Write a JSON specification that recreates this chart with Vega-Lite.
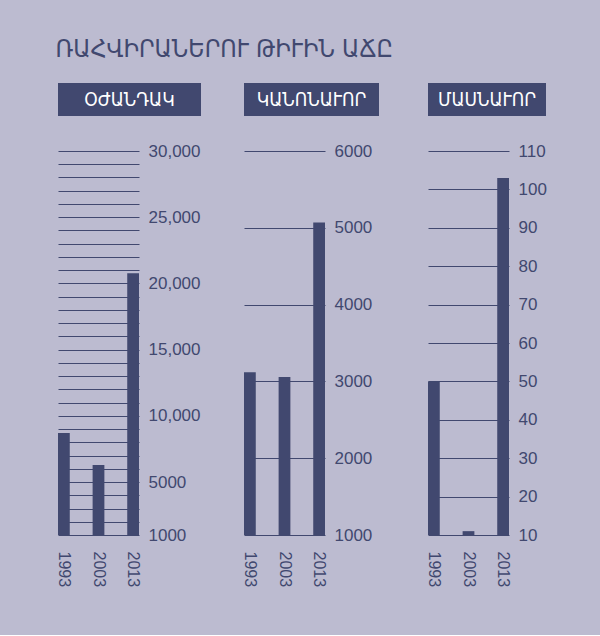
{
  "$schema": "https://vega.github.io/schema/vega-lite/v6.json",
  "background": "#bcbbd0",
  "padding": {"left": 55, "top": 37, "right": 57, "bottom": 48},
  "title": {
    "text": "ՌԱՀՎԻՐԱՆԵՐՈՒ ԹԻՒԻՆ ԱՃԸ",
    "anchor": "start",
    "font": "DejaVu Sans Condensed, DejaVu Sans",
    "fontSize": 25,
    "fontWeight": "normal",
    "color": "#41486f",
    "offset": 21
  },
  "datasets": {
    "auxiliary": [
      {"year": "1993", "count": 8700},
      {"year": "2003", "count": 6280},
      {"year": "2013", "count": 20770}
    ],
    "regular": [
      {"year": "1993", "count": 3120},
      {"year": "2003", "count": 3056},
      {"year": "2013", "count": 5068}
    ],
    "special": [
      {"year": "1993", "count": 50},
      {"year": "2003", "count": 11},
      {"year": "2013", "count": 103}
    ]
  },
  "config": {
    "view": {"stroke": null},
    "axisX": {
      "title": null,
      "labelAngle": 90,
      "ticks": false,
      "tickSize": 0,
      "domain": false,
      "grid": false,
      "labelPadding": 16,
      "labelFont": "Liberation Sans",
      "labelFontSize": 16,
      "labelColor": "#41486f"
    },
    "axisY": {
      "title": null,
      "orient": "right",
      "ticks": false,
      "tickSize": 0,
      "domain": false,
      "grid": true,
      "gridColor": "#41486f",
      "gridOpacity": 1,
      "gridWidth": 1,
      "labelPadding": 9,
      "labelOverlap": false,
      "labelFont": "Liberation Sans",
      "labelFontSize": 17,
      "labelColor": "#41486f"
    },
    "bar": {"color": "#41486f"},
    "text": {"color": "white", "font": "DejaVu Sans Condensed, DejaVu Sans", "fontSize": 19}
  },
  "spacing": 40,
  "hconcat": [
    {
      "spacing": 26,
      "vconcat": [
        {
          "width": 143,
          "height": 33,
          "view": {"fill": "#41486f", "stroke": null},
          "data": {"values": [{"name": "ՕԺԱՆԴԱԿ"}]},
          "mark": "text",
          "encoding": {"text": {"field": "name"}}
        },
        {
          "width": 81,
          "height": 384,
          "data": {"name": "auxiliary"},
          "mark": "bar",
          "encoding": {
            "x": {
              "field": "year",
              "type": "ordinal",
              "scale": {"paddingInner": 0.66, "paddingOuter": 0}
            },
            "y": {
              "field": "count",
              "type": "quantitative",
              "scale": {"domain": [1000, 30000], "zero": false, "nice": false},
              "axis": {
                "values": [1000, 2000, 3000, 4000, 5000, 6000, 7000, 8000, 9000, 10000, 11000, 12000, 13000, 14000, 15000, 16000, 17000, 18000, 19000, 20000, 21000, 22000, 23000, 24000, 25000, 26000, 27000, 28000, 29000, 30000],
                "labelExpr": "datum.value == 1000 || datum.value == 5000 ? format(datum.value, 'd') : (datum.value % 5000 == 0 ? format(datum.value, ',') : '')"
              }
            },
            "y2": {"datum": 1000}
          }
        }
      ]
    },
    {
      "spacing": 46,
      "hconcat": [
        {
          "spacing": 26,
          "vconcat": [
            {
              "width": 135,
              "height": 33,
              "view": {"fill": "#41486f", "stroke": null},
              "data": {"values": [{"name": "ԿԱՆՈՆԱՒՈՐ"}]},
              "mark": "text",
              "encoding": {"text": {"field": "name"}}
            },
            {
              "width": 81,
              "height": 384,
              "data": {"name": "regular"},
              "mark": "bar",
              "encoding": {
                "x": {
                  "field": "year",
                  "type": "ordinal",
                  "scale": {"paddingInner": 0.66, "paddingOuter": 0}
                },
                "y": {
                  "field": "count",
                  "type": "quantitative",
                  "scale": {"domain": [1000, 6000], "zero": false, "nice": false},
                  "axis": {"values": [1000, 2000, 3000, 4000, 5000, 6000], "format": "d"}
                },
                "y2": {"datum": 1000}
              }
            }
          ]
        },
        {
          "spacing": 26,
          "vconcat": [
            {
              "width": 118,
              "height": 33,
              "view": {"fill": "#41486f", "stroke": null},
              "data": {"values": [{"name": "ՄԱՍՆԱՒՈՐ"}]},
              "mark": "text",
              "encoding": {"text": {"field": "name"}}
            },
            {
              "width": 81,
              "height": 384,
              "data": {"name": "special"},
              "mark": "bar",
              "encoding": {
                "x": {
                  "field": "year",
                  "type": "ordinal",
                  "scale": {"paddingInner": 0.66, "paddingOuter": 0}
                },
                "y": {
                  "field": "count",
                  "type": "quantitative",
                  "scale": {"domain": [10, 110], "zero": false, "nice": false},
                  "axis": {"values": [10, 20, 30, 40, 50, 60, 70, 80, 90, 100, 110], "format": "d"}
                },
                "y2": {"datum": 10}
              }
            }
          ]
        }
      ]
    }
  ]
}
